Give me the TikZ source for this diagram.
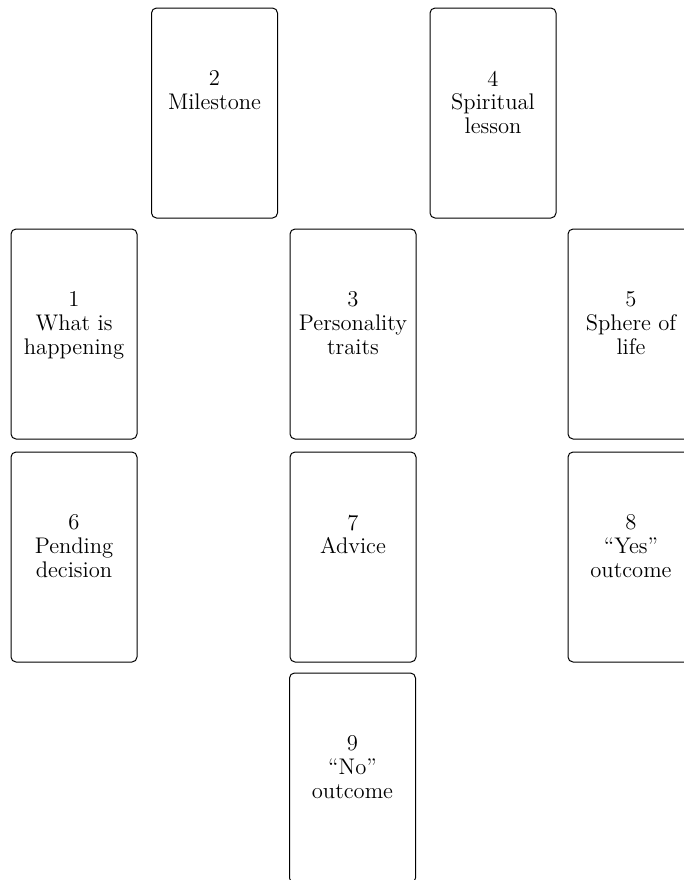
\documentclass[tikz,border=0pt]{standalone}
\usepackage{tikz}

\tikzset{
  card/.style={draw, line width=0.5pt, rounded corners=2.5pt,
    minimum width=63pt, minimum height=105pt, inner sep=0pt},
  cardtext/.style={anchor=north, align=center, inner sep=0pt,
    font=\fontsize{11.3}{11.9}\selectfont}
}

\begin{document}
\begin{tikzpicture}[x=0.5pt, y=-0.5pt]
  \useasboundingbox (0, 0) rectangle (684, 880);
  % top row
  \node[card] (c2) at (214.5, 113) {};
  \node[card] (c4) at (493, 113) {};
  % second row
  \node[card] (c1) at (74, 334) {};
  \node[card] (c3) at (353, 334) {};
  \node[card] (c5) at (631, 334) {};
  % third row
  \node[card] (c6) at (74, 557) {};
  \node[card] (c7) at (353, 557) {};
  \node[card] (c8) at (631, 557) {};
  % bottom
  \node[card] (c9) at (352.5, 778) {};
  % labels
  \node[cardtext] (t1) at ([yshift=-31.5pt]c1.north) {1\\What is\\happening};
  \node[cardtext] (t2) at ([yshift=-31.5pt]c2.north) {2\\Milestone};
  \node[cardtext] (t3) at ([yshift=-31.5pt]c3.north) {3\\Personality\\traits};
  \node[cardtext] (t4) at ([yshift=-31.5pt]c4.north) {4\\Spiritual\\lesson};
  \node[cardtext] (t5) at ([yshift=-31.5pt]c5.north) {5\\Sphere of\\life};
  \node[cardtext] (t6) at ([yshift=-31.5pt]c6.north) {6\\Pending\\decision};
  \node[cardtext] (t7) at ([yshift=-31.5pt]c7.north) {7\\Advice};
  \node[cardtext] (t8) at ([yshift=-31.5pt]c8.north) {8\\``Yes''\\outcome};
  \node[cardtext] (t9) at ([yshift=-31.5pt]c9.north) {9\\``No''\\outcome};
\end{tikzpicture}
\end{document}
